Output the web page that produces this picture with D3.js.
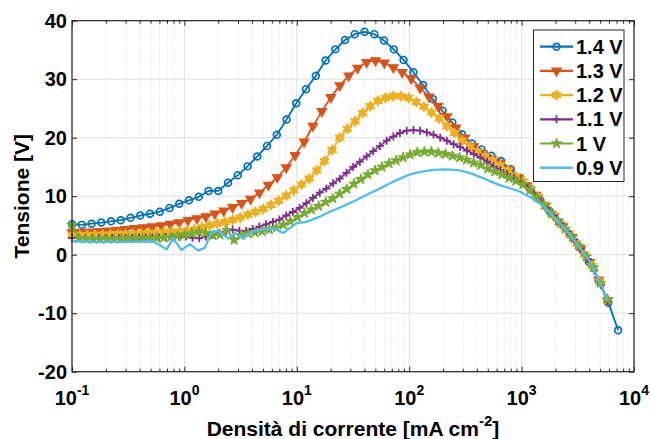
<!DOCTYPE html>
<html><head><meta charset="utf-8">
<script src="https://cdn.jsdelivr.net/npm/d3@7"></script>
<style>
body{margin:0;background:#fff}
svg{display:block}
text{font-family:"Liberation Sans",Arial,Helvetica,sans-serif;font-weight:bold;fill:#000}
</style>
</head><body><svg id="c" width="651" height="439"></svg>
<script>
// ---- data (x stored as log10 of current density in mA cm^-2, y = voltage in V) ----
const seriesNames = ["1.4 V","1.3 V","1.2 V","1.1 V","1 V","0.9 V"];

const logJ_14 = [-1.000,-0.913,-0.826,-0.740,-0.653,-0.566,-0.479,-0.393,-0.306,-0.219,-0.132,-0.046,0.041,0.128,0.215,0.301,0.388,0.475,0.562,0.648,0.735,0.822,0.909,0.995,1.082,1.169,1.256,1.343,1.429,1.516,1.603,1.690,1.776,1.863,1.950,2.037,2.123,2.210,2.297,2.384,2.470,2.557,2.644,2.731,2.817,2.904,2.991,3.078,3.164,3.251,3.338,3.425,3.512,3.598,3.685,3.772,3.859];
const V_14 = [5.2,5.1,5.3,5.5,5.7,5.9,6.3,6.7,7.0,7.35,8.0,8.7,9.3,9.9,10.9,10.9,12.3,13.6,15.1,16.8,18.6,20.5,23.1,25.9,28.3,30.6,33.2,35.1,36.7,37.7,38.1,37.7,36.6,35.1,33.3,31.2,29.0,26.6,24.6,22.6,20.6,19.0,18.0,16.9,16.0,14.6,13.0,11.3,9.4,7.4,5.5,3.5,1.3,-1.2,-4.4,-8.2,-12.9];

const logJ_13 = [-1.000,-0.921,-0.841,-0.762,-0.682,-0.603,-0.524,-0.444,-0.365,-0.285,-0.206,-0.126,-0.047,0.032,0.112,0.191,0.271,0.350,0.429,0.509,0.588,0.668,0.747,0.826,0.906,0.985,1.065,1.144,1.223,1.303,1.382,1.462,1.541,1.621,1.700,1.779,1.859,1.938,2.018,2.097,2.176,2.256,2.335,2.415,2.494,2.573,2.653,2.732,2.812,2.891,2.971,3.050,3.129,3.209,3.288,3.368,3.447,3.526,3.606,3.685,3.765];
const V_13 = [3.8,3.85,3.9,4.0,4.1,4.2,4.35,4.5,4.65,4.8,5.0,5.25,5.5,5.9,6.2,6.5,7.0,7.5,8.1,8.8,9.5,10.6,11.9,13.2,14.9,17.0,19.3,22.0,24.5,26.9,28.9,30.6,31.9,32.9,33.2,32.8,32.0,31.2,30.1,28.5,27.0,25.4,23.6,21.7,20.0,18.5,17.3,16.4,15.7,14.6,13.2,11.8,10.2,8.4,6.6,4.8,3.0,1.0,-1.3,-4.3,-7.9];

const logJ_12 = [-1.000,-0.932,-0.864,-0.796,-0.728,-0.660,-0.592,-0.524,-0.456,-0.387,-0.319,-0.251,-0.183,-0.115,-0.047,0.021,0.089,0.157,0.225,0.293,0.361,0.429,0.497,0.565,0.633,0.702,0.770,0.838,0.906,0.974,1.042,1.110,1.178,1.246,1.314,1.382,1.450,1.518,1.586,1.654,1.722,1.790,1.858,1.927,1.995,2.063,2.131,2.199,2.267,2.335,2.403,2.471,2.539,2.607,2.675,2.743,2.811,2.879,2.947,3.016,3.084,3.152,3.220,3.288,3.356,3.424,3.492,3.560,3.628,3.696,3.764];
const V_12 = [3.35,3.35,3.35,3.4,3.4,3.45,3.5,3.5,3.55,3.6,3.7,3.75,3.85,3.9,4.0,4.1,4.35,4.7,5.0,5.3,5.6,5.95,6.35,6.85,7.3,7.8,8.5,9.2,10.1,11.0,12.0,13.0,14.4,16.0,17.9,20.0,21.5,22.8,24.2,25.4,26.3,26.8,27.1,27.1,26.8,26.1,25.3,24.3,23.3,22.0,20.8,19.5,18.5,17.6,16.8,16.1,15.3,14.4,13.4,12.5,11.2,9.8,8.2,6.7,5.1,3.6,1.9,0.0,-1.9,-4.6,-7.8];

const logJ_11 = [-1.000,-0.940,-0.881,-0.821,-0.762,-0.702,-0.643,-0.583,-0.524,-0.464,-0.404,-0.345,-0.285,-0.226,-0.166,-0.107,-0.047,0.013,0.072,0.132,0.191,0.251,0.310,0.370,0.429,0.489,0.549,0.608,0.668,0.727,0.787,0.846,0.906,0.965,1.025,1.085,1.144,1.204,1.263,1.323,1.382,1.442,1.502,1.561,1.621,1.680,1.740,1.799,1.859,1.918,1.978,2.038,2.097,2.157,2.216,2.276,2.335,2.395,2.454,2.514,2.574,2.633,2.693,2.752,2.812,2.871,2.931,2.991,3.050,3.110,3.169,3.229,3.288,3.348,3.407,3.467,3.527,3.586,3.646,3.705,3.765];
const V_11 = [2.85,2.85,2.85,2.85,2.85,2.85,2.85,2.85,2.85,2.85,2.9,2.9,2.9,2.95,3.0,3.0,3.05,3.1,2.9,2.8,3.1,3.4,3.7,3.95,4.3,4.1,4.0,4.4,4.8,5.2,5.6,6.0,6.7,7.3,8.0,8.8,9.7,10.6,11.3,12.2,13.0,14.0,15.0,15.9,16.8,17.7,18.6,19.5,20.2,20.8,21.2,21.3,21.2,20.9,20.5,20.0,19.5,18.9,18.4,17.8,17.2,16.6,15.9,15.1,14.5,13.8,13.1,12.4,11.6,10.5,9.3,8.0,6.7,5.3,4.0,2.6,1.0,-0.7,-2.7,-5.2,-8.0];

const logJ_10 = [-1.000,-0.937,-0.875,-0.812,-0.749,-0.687,-0.624,-0.561,-0.498,-0.436,-0.373,-0.310,-0.248,-0.185,-0.122,-0.060,0.003,0.066,0.128,0.191,0.254,0.316,0.379,0.442,0.505,0.567,0.630,0.693,0.755,0.818,0.881,0.943,1.006,1.069,1.131,1.194,1.257,1.320,1.382,1.445,1.508,1.570,1.633,1.696,1.758,1.821,1.884,1.946,2.009,2.072,2.134,2.197,2.260,2.323,2.385,2.448,2.511,2.573,2.636,2.699,2.761,2.824,2.887,2.949,3.012,3.075,3.137,3.200,3.263,3.325,3.388,3.451,3.513,3.576,3.639,3.701,3.764];
const V_10 = [5.1,2.8,2.7,2.7,2.7,2.7,2.7,2.75,2.75,2.8,2.8,2.8,2.85,2.9,3.0,3.2,3.4,3.6,3.9,3.7,3.3,3.4,4.2,2.5,3.3,3.6,3.8,4.0,4.3,4.6,5.1,5.7,6.4,7.1,7.7,8.3,9.0,9.6,10.4,11.2,12.1,12.9,13.7,14.4,15.0,15.6,16.1,16.6,17.1,17.5,17.6,17.6,17.4,17.2,16.9,16.6,16.2,15.7,15.3,14.7,14.2,13.7,13.1,12.6,12.0,11.0,9.8,8.5,7.1,5.8,4.4,3.0,1.4,-0.3,-2.2,-4.9,-7.6];

const logJ_09 = [-1,-0.751,-0.484,-0.28,-0.218,-0.158,-0.1,-0.025,0.049,0.123,0.182,0.242,0.3,0.389,0.449,0.523,0.597,0.686,0.804,0.878,0.997,1.086,1.204,1.293,1.4,1.531,1.65,1.738,1.86,1.989,2.06,2.138,2.22,2.3,2.38,2.449,2.55,2.656,2.73,2.804,2.89,2.982,3.07,3.16,3.25,3.338,3.427,3.516,3.604,3.693,3.764];
const V_09 = [2.3,2.2,2.2,2.3,1.6,0.9,2.8,0.8,1.8,0.7,1.2,3.9,4.1,2.8,3.7,2.8,3.9,4.3,4.5,3.7,5.4,5.6,6.5,7.35,8.2,9.35,10.5,11.3,12.5,13.6,14.0,14.3,14.5,14.6,14.55,14.4,13.9,13.1,12.5,11.9,11.4,10.8,9.9,8.8,7.2,5.4,3.5,1.2,-1.1,-4.6,-7.8];

const xTicks = [0.1,1,10,100,1000,10000];
const xTickExps = ["-1","0","1","2","3","4"];
const yTicks = [-20,-10,0,10,20,30,40];
const colors = ["#0072BD","#D95319","#EDB120","#7E2F8E","#77AC30","#4DBEEE"];

// ---- chart ----
const svg = d3.select("#c");
const x = d3.scaleLog().domain([0.1,1e4]).range([72,634]);
const y = d3.scaleLinear().domain([-20,40]).range([371.7,20.7]);
const X0=72,X1=634,Y0=20.7,Y1=371.7;

// grid
const allX = x.ticks();
const minorX = allX.filter(v => !xTicks.some(t => Math.abs(t-v)/t < 1e-9));
const g = svg.append("g");
g.selectAll(".mx").data(minorX).join("line")
  .attr("x1",d=>x(d)).attr("x2",d=>x(d)).attr("y1",Y0).attr("y2",Y1)
  .attr("stroke","#cfcfcf").attr("stroke-width",0.8).attr("stroke-dasharray","1,2");
g.selectAll(".gx").data(xTicks).join("line")
  .attr("x1",d=>x(d)).attr("x2",d=>x(d)).attr("y1",Y0).attr("y2",Y1)
  .attr("stroke","#dedede").attr("stroke-width",1);
g.selectAll(".gy").data(yTicks).join("line")
  .attr("x1",X0).attr("x2",X1).attr("y1",d=>y(d)).attr("y2",d=>y(d))
  .attr("stroke","#dedede").attr("stroke-width",1);

// markers
function hexagram(R){
  const r = R/Math.sqrt(3); let p=[];
  for(let i=0;i<12;i++){const a=-Math.PI/2+i*Math.PI/6; const rr=i%2?r:R; p.push([rr*Math.cos(a),rr*Math.sin(a)]);}
  return "M"+p.map(q=>q[0].toFixed(2)+","+q[1].toFixed(2)).join("L")+"Z";
}
const markers = [
  {path:d3.symbol(d3.symbolCircle, 36)(), fill:"none", rot:0, sw:1.7},
  {path:d3.symbol(d3.symbolTriangle, 38)(), fill:"c", rot:180, sw:1.2},
  {path:hexagram(4.8), fill:"c", rot:0, sw:1.3},
  {path:"M-4,0H4M0,-4V4", fill:"none", rot:0, sw:1.8},
  {path:d3.symbol(d3.symbolStar, 34)(), fill:"c", rot:0, sw:1},
  null
];

const series = [
  [logJ_14,V_14],[logJ_13,V_13],[logJ_12,V_12],[logJ_11,V_11],[logJ_10,V_10],[logJ_09,V_09]
].map((s,i)=>({name:seriesNames[i], color:colors[i], marker:markers[i],
  pts:s[0].map((e,k)=>({j:Math.pow(10,e), v:s[1][k]}))}));

const line = d3.line().x(d=>x(d.j)).y(d=>y(d.v));
const plot = svg.append("g");
series.forEach((s,i)=>{
  const gs = plot.append("g");
  gs.append("path").attr("d",line(s.pts)).attr("fill","none")
    .attr("stroke",s.color).attr("stroke-width", i===5?2.3:1.8).attr("stroke-linejoin","round");
  if(s.marker){
    gs.selectAll("path.m").data(s.pts).join("path").attr("class","m")
      .attr("d",s.marker.path)
      .attr("transform",d=>`translate(${x(d.j)},${y(d.v)}) rotate(${s.marker.rot})`)
      .attr("fill",s.marker.fill==="c"?s.color:"none")
      .attr("stroke",s.color).attr("stroke-width",s.marker.sw);
  }
});

// axes ticks (inward) on all four sides
function clean(sel){sel.select(".domain").remove(); sel.selectAll("line").attr("stroke","#262626");}
svg.append("g").attr("transform",`translate(0,${Y1})`)
  .call(d3.axisBottom(x).tickValues(xTicks).tickSize(-5).tickSizeOuter(0).tickFormat("")).call(clean);
svg.append("g").attr("transform",`translate(0,${Y1})`)
  .call(d3.axisBottom(x).tickValues(minorX).tickSize(-3).tickSizeOuter(0).tickFormat("")).call(clean);
svg.append("g").attr("transform",`translate(0,${Y0})`)
  .call(d3.axisTop(x).tickValues(xTicks).tickSize(-5).tickSizeOuter(0).tickFormat("")).call(clean);
svg.append("g").attr("transform",`translate(0,${Y0})`)
  .call(d3.axisTop(x).tickValues(minorX).tickSize(-3).tickSizeOuter(0).tickFormat("")).call(clean);
const ly = svg.append("g").attr("transform",`translate(${X0},0)`)
  .call(d3.axisLeft(y).tickValues(yTicks).tickSize(-5).tickSizeOuter(0).tickPadding(5).tickFormat(v=>String(v)));
clean(ly);
ly.selectAll("text").attr("font-size",20).attr("font-family",null).attr("fill","#000")
  .style("font-family",'"Liberation Sans",Arial,sans-serif').style("font-weight","bold");
svg.append("g").attr("transform",`translate(${X1},0)`)
  .call(d3.axisRight(y).tickValues(yTicks).tickSize(-5).tickSizeOuter(0).tickFormat("")).call(clean);

// box
svg.append("rect").attr("x",X0).attr("y",Y0).attr("width",X1-X0).attr("height",Y1-Y0)
  .attr("fill","none").attr("stroke","#262626").attr("stroke-width",1.2);

// x tick labels
const xl = svg.append("g").selectAll("text").data(xTicks).join("text")
  .attr("x",d=>x(d)).attr("y",405).attr("text-anchor","middle").attr("font-size",20);
xl.append("tspan").text("10");
xl.append("tspan").attr("dy",-10).attr("font-size",14).text((d,i)=>xTickExps[i]);

// axis labels
const xt = svg.append("text").attr("x",(X0+X1)/2).attr("y",436).attr("text-anchor","middle").attr("font-size",21);
xt.append("tspan").text("Densità di corrente [mA cm");
xt.append("tspan").attr("dy",-10).attr("font-size",15).text("-2");
xt.append("tspan").attr("dy",10).text("]");
svg.append("text").attr("transform",`translate(28.5,${(Y0+Y1)/2}) rotate(-90)`)
  .attr("text-anchor","middle").attr("font-size",21).text("Tensione [V]");

// legend
const lg = svg.append("g");
lg.append("rect").attr("x",533.5).attr("y",30).attr("width",90.5).attr("height",151.5)
  .attr("fill","#fff").attr("stroke","#262626").attr("stroke-width",1);
series.forEach((s,i)=>{
  const cy = 46.7 + i*24.2;
  lg.append("line").attr("x1",540).attr("x2",573).attr("y1",cy).attr("y2",cy)
    .attr("stroke",s.color).attr("stroke-width",i===5?2.6:2.2);
  if(s.marker){
    lg.append("path").attr("d",s.marker.path)
      .attr("transform",`translate(556.5,${cy}) rotate(${s.marker.rot})`)
      .attr("fill",s.marker.fill==="c"?s.color:"none").attr("stroke",s.color).attr("stroke-width",s.marker.sw);
  }
  lg.append("text").attr("x",576).attr("y",cy+7).attr("font-size",20).text(s.name);
});
</script>
</body></html>
